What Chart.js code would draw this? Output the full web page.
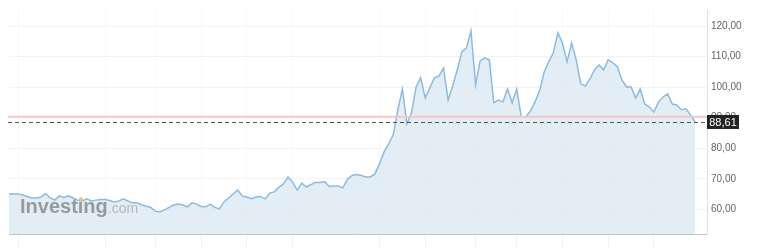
<!DOCTYPE html>
<html>
<head>
<meta charset="utf-8">
<script src="https://cdn.jsdelivr.net/npm/chart.js@4.4.1/dist/chart.umd.min.js"></script>
<style>
  html, body { margin: 0; padding: 0; background: #fff; }
  #wrap { width: 768px; height: 248px; position: relative; }
</style>
</head>
<body>
<div id="wrap"><canvas id="myChart"></canvas></div>
<script>
// daily closes
const prices = [
  65.0, 65.0, 65.0, 64.7, 64.2, 63.7, 63.7, 64.0, 65.2, 63.7,
  63.0, 64.4, 63.9, 64.4, 63.7, 63.0, 62.7, 63.4, 62.7, 63.0,
  63.2, 63.2, 62.9, 62.4, 62.7, 63.4, 62.7, 62.1, 62.1, 61.4,
  61.1, 60.6, 59.4, 59.1, 59.8, 60.6, 61.4, 61.7, 61.4, 60.8,
  62.1, 61.7, 60.9, 60.8, 61.7, 60.6, 60.1, 62.4, 63.7, 65.0,
  66.3, 64.4, 64.0, 63.5, 64.0, 64.2, 63.4, 65.3, 65.7, 67.3,
  68.3, 70.6, 68.9, 66.3, 68.6, 67.3, 68.1, 68.8, 68.8, 69.1,
  67.5, 67.6, 67.6, 67.0, 69.9, 71.1, 71.4, 71.1, 70.6, 70.6,
  71.6, 74.9, 78.8, 81.4, 84.4, 92.6, 99.4, 88.0, 91.6, 100.1,
  103.1, 96.5, 99.8, 103.1, 103.7, 106.3, 95.8, 100.4, 105.7, 111.6,
  112.9, 118.5, 100.8, 108.6, 109.6, 109.0, 94.9, 95.8, 95.2, 99.4,
  94.9, 99.4, 90.3, 90.3, 92.2, 95.2, 98.8, 105.0, 108.3, 111.3,
  117.8, 114.5, 108.3, 114.5, 109.0, 101.1, 100.4, 102.7, 105.7, 107.3,
  105.7, 109.0, 108.0, 106.7, 102.4, 100.1, 100.1, 96.5, 99.4, 94.5,
  93.5, 91.9, 95.2, 96.8, 97.8, 94.5, 94.2, 92.6, 92.9, 90.9,
  88.61
];
const yTicks = [60, 70, 80, 90, 100, 110, 120];
const gridAt = [2, 21, 32, 42, 52, 62, 81, 91, 102, 111, 121, 131, 141];
const lastPrice = 88.61;
const prevClose = 90.35;

const fmt = v => v.toFixed(2).replace('.', ',');

const overlay = {
  id: 'overlay',
  afterDatasetsDraw(chart) {
    const ctx = chart.ctx, a = chart.chartArea, y = chart.scales.y;
    ctx.save();
    // watermark
    ctx.font = 'bold 20px Arial';
    ctx.fillStyle = 'rgba(125,125,125,0.75)';
    ctx.fillText('Investing', 20, 213);
    const w = ctx.measureText('Investing').width;
    ctx.font = '14px Arial';
    ctx.fillStyle = 'rgba(150,150,150,0.6)';
    ctx.fillText('.com', 20 + w, 213);
    ctx.fillStyle = 'rgba(250,200,120,0.9)';
    ctx.beginPath(); ctx.arc(81, 199, 2, 0, Math.PI * 2); ctx.fill();

    // previous close
    const yr = y.getPixelForValue(prevClose);
    ctx.strokeStyle = '#f7c6c6';
    ctx.lineWidth = 2;
    ctx.beginPath(); ctx.moveTo(a.left - 1, yr); ctx.lineTo(a.right, yr); ctx.stroke();

    // last price
    const yl = Math.round(y.getPixelForValue(lastPrice)) + 0.5;
    ctx.strokeStyle = '#555';
    ctx.lineWidth = 1;
    ctx.setLineDash([4, 3]);
    ctx.beginPath(); ctx.moveTo(a.left - 1, yl); ctx.lineTo(a.right, yl); ctx.stroke();
    ctx.restore();
  },
  afterDraw(chart) {
    const ctx = chart.ctx, a = chart.chartArea, y = chart.scales.y;
    const yl = y.getPixelForValue(lastPrice);
    ctx.save();
    ctx.fillStyle = '#222';
    ctx.fillRect(a.right, yl - 7, 32, 14);
    ctx.fillStyle = '#fff';
    ctx.font = '11px Arial';
    ctx.textBaseline = 'middle';
    ctx.textAlign = 'center';
    ctx.fillText(fmt(lastPrice), a.right + 16, yl + 1);
    ctx.restore();
  }
};

const ctx = document.getElementById('myChart').getContext('2d');

new Chart(ctx, {
  type: 'line',
  data: {
    datasets: [{
      data: prices.map((v, i) => ({ x: i, y: v })),
      borderColor: '#8dbbe0',
      backgroundColor: 'rgba(214,229,241,0.7)',
      borderWidth: 1.5,
      pointRadius: 0,
      tension: 0,
      fill: 'start'
    }]
  },
  options: {
    responsive: true,
    maintainAspectRatio: false,
    animation: false,
    layout: { padding: { left: 9, top: 10, right: 0, bottom: 0 } },
    plugins: { legend: { display: false }, tooltip: { enabled: false } },
    scales: {
      x: {
        type: 'linear',
        min: 0,
        max: 152.6,
        afterBuildTicks: s => { s.ticks = gridAt.map(v => ({ value: v })); },
        afterFit: s => { s.height = 14; },
        ticks: { display: false },
        grid: { color: '#f1f1f1', tickLength: 14, drawTicks: true },
        border: { display: true, color: '#c4c4c4', dash: [1, 1] }
      },
      y: {
        position: 'right',
        min: 51.9,
        max: 125.3,
        afterBuildTicks: s => { s.ticks = yTicks.map(v => ({ value: v })); },
        afterFit: s => { s.width = 61; },
        ticks: {
          callback: v => fmt(v),
          color: '#666',
          font: { family: 'Arial', size: 10 },
          padding: 4
        },
        grid: { color: '#f3f3f3', drawTicks: false },
        border: { display: true, color: '#e2e2e2' }
      }
    }
  },
  plugins: [overlay]
});
</script>
</body>
</html>
